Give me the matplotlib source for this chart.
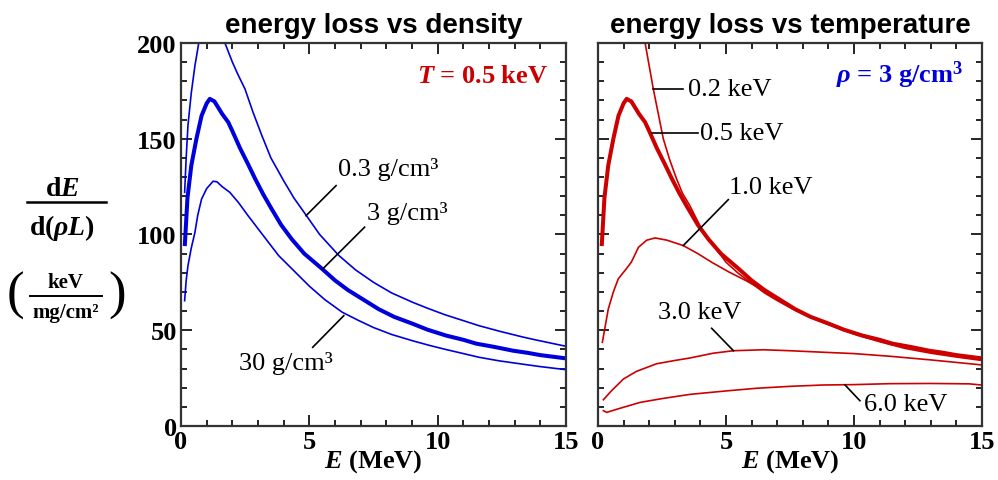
import matplotlib
matplotlib.use("Agg")
import matplotlib.pyplot as plt
from matplotlib.lines import Line2D
from matplotlib.ticker import MultipleLocator

plt.rcParams['font.family'] = ['Liberation Serif', 'DejaVu Serif']
plt.rcParams['mathtext.fontset'] = 'custom'
plt.rcParams['mathtext.rm'] = 'Liberation Serif:bold'
plt.rcParams['mathtext.bf'] = 'Liberation Serif:bold'
plt.rcParams['mathtext.it'] = 'Liberation Serif:bold:italic'

# --- stopping power vs density (T = 0.5 keV) ---
e_rho03 = [0.14, 0.2, 0.27, 0.4, 0.54, 0.69, 0.9, 1.2, 1.5, 1.71, 2.0, 2.2, 2.49, 2.8,
           3.15, 3.5, 4.0, 4.4, 4.85, 5.4, 6.15, 6.8, 7.5, 8.2, 9.02, 9.6, 10.3, 11.0,
           11.6, 12.4, 13.3, 13.8, 15.0]
s_rho03 = [122, 140, 157, 174, 188, 200, 212, 218, 210, 200, 190, 184, 176, 164,
           151.6, 140, 128, 119, 110.5, 100, 89, 81.5, 75, 69.5, 64.6, 61.5, 58, 55,
           52.4, 49.5, 46.5, 45, 41.6]

e_rho3 = [0.15, 0.25, 0.4, 0.5, 0.6, 0.8, 1.0, 1.12, 1.3, 1.6, 1.84, 2.0, 2.3, 2.6,
          2.89, 3.2, 3.5, 3.9, 4.31, 4.8, 5.5, 6.0, 6.5, 7.1, 7.7, 8.3, 9.0, 9.6,
          10.33, 11.0, 11.5, 12.2, 12.94, 13.5, 14.0, 15.0]
s_rho3 = [95, 119, 136, 143, 150, 162, 168.5, 170.8, 169.5, 163, 158.6, 154, 145, 137,
          129, 121, 114, 105, 97.6, 90, 82, 76, 71, 66, 61, 57, 53.5, 50.3,
          47.2, 45, 43, 41.3, 39.3, 38.2, 37, 35.3]

e_rho30 = [0.14, 0.2, 0.27, 0.4, 0.54, 0.65, 0.8, 1.0, 1.25, 1.4, 1.6, 1.9, 2.23, 2.6,
           3.0, 3.4, 3.8, 4.4, 5.0, 5.6, 6.28, 6.9, 7.5, 8.2, 9.02, 9.7, 10.3, 11.0,
           11.6, 12.4, 13.3, 14.0, 15.0]
s_rho30 = [65.4, 76, 83.7, 93, 101, 110, 118.5, 124, 127.8, 127.5, 125, 122, 116.8, 110,
           103, 96, 89, 81, 73, 66, 59.4, 55.2, 51.4, 47.8, 44.5, 42, 40, 37.8,
           35.9, 34, 32.3, 31, 29.4]

# --- stopping power vs temperature (rho = 3 g/cm3) ---
e_t02 = [1.6, 1.84, 2.16, 2.55, 2.8, 3.07, 3.3, 3.59, 4.0, 4.5, 5.0, 5.5, 6.0, 6.5,
         7.0, 7.5, 8.0, 9.0, 10.0, 11.0, 12.0, 13.0, 14.0, 15.0]
s_t02 = [215, 200, 176, 150, 139, 129, 121.5, 115, 104, 94.5, 85.5, 79.5, 74.5, 69.5,
         65.5, 61.8, 58.5, 53, 48.5, 44.8, 41.5, 38.8, 36.8, 35]

e_t05 = e_rho3
s_t05 = s_rho3

e_t10 = [0.17, 0.4, 0.6, 0.79, 1.1, 1.3, 1.58, 1.9, 2.23, 2.7, 3.33, 3.9, 4.44, 5.1,
         5.78, 6.5, 7.17, 7.8, 8.5, 9.2, 10.0, 11.0, 12.0, 13.0, 14.0, 15.0]
s_t10 = [43.7, 61, 70, 76.8, 82, 85.5, 93.3, 97, 98.2, 97, 94.2, 90, 85.5, 80.5,
         75.9, 70.5, 65, 60.5, 56, 52, 48, 44, 40.5, 38, 36, 34.2]

e_t30 = [0.21, 0.5, 0.99, 1.5, 2.29, 3.0, 3.59, 4.5, 5.29, 6.46, 7.5, 8.8, 10.0, 11.41,
         13.0, 14.98]
s_t30 = [13.7, 18, 24.5, 28.5, 32.5, 34.2, 35.5, 38, 39.3, 39.8, 39.3, 38.5, 37.8, 36.4,
         34.5, 31.9]

e_t60 = [0.21, 0.34, 0.8, 1.64, 2.5, 3.59, 5.0, 6.2, 7.5, 8.8, 10.0, 11.41, 13.0, 14.5,
         14.98]
s_t60 = [8.0, 7.1, 9.0, 12.3, 14.3, 16.5, 18.3, 19.7, 20.7, 21.4, 21.6, 22.1, 22.2, 22.0,
         21.4]

blue = '#0000dd'
red = '#cc0000'
thin, thick = 1.2, 2.9

fig = plt.figure(figsize=(9.98, 4.81), dpi=100)
ax1 = fig.add_axes([0.1814, 0.1123, 0.3858, 0.7963])
ax2 = fig.add_axes([0.5992, 0.1123, 0.3848, 0.7963])

for ax in (ax1, ax2):
    ax.set_xlim(0, 15)
    ax.set_ylim(0, 200)
    ax.xaxis.set_major_locator(MultipleLocator(5))
    ax.xaxis.set_minor_locator(MultipleLocator(1))
    ax.yaxis.set_major_locator(MultipleLocator(50))
    ax.yaxis.set_minor_locator(MultipleLocator(10))
    ax.tick_params(which='both', direction='in', top=True, right=True, width=1.2,
                   labelsize=19, pad=3)
    ax.tick_params(which='major', length=8)
    ax.tick_params(which='minor', length=4.3)
    for lab in ax.get_xticklabels() + ax.get_yticklabels():
        lab.set_fontweight('bold')
    for sp in ax.spines.values():
        sp.set_linewidth(1.6)
        sp.set_color('#333333')
    ax.set_xlabel(r'$E$ (MeV)', fontsize=19, fontweight='bold', labelpad=-4)

ax2.tick_params(labelleft=False)

ax1.plot(e_rho03, s_rho03, color=blue, lw=thin)
ax1.plot(e_rho3, s_rho3, color=blue, lw=thick)
ax1.plot(e_rho30, s_rho30, color=blue, lw=thin)

ax2.plot(e_t02, s_t02, color=red, lw=thin)
ax2.plot(e_t05, s_t05, color=red, lw=thick)
ax2.plot(e_t10, s_t10, color=red, lw=thin)
ax2.plot(e_t30, s_t30, color=red, lw=thin)
ax2.plot(e_t60, s_t60, color=red, lw=thin)

ax1.set_title('energy loss vs density', family='Liberation Sans', fontweight='bold',
              fontsize=20, pad=8)
ax2.set_title('energy loss vs temperature', family='Liberation Sans', fontweight='bold',
              fontsize=20, pad=8)

ax1.text(0.953, 0.916, r'$T$ = 0.5 keV', transform=ax1.transAxes, ha='right',
         va='center', fontsize=19, fontweight='bold', color=red)
ax2.text(0.95, 0.918, r'$\rho$ = 3 g/cm$^3$', transform=ax2.transAxes, ha='right',
         va='center', fontsize=19, fontweight='bold', color=blue)

# leader lines and curve labels
def tag(ax, p0, p1, txt, xy, ha='left'):
    ax.plot([p0[0], p1[0]], [p0[1], p1[1]], color='black', lw=1.2)
    ax.text(xy[0], xy[1], txt, ha=ha, va='center', fontsize=19)

tag(ax1, (4.87, 109.8), (6.04, 125.5), '0.3 g/cm³', (6.1, 134.5))
tag(ax1, (5.52, 82), (7.15, 103.8), '3 g/cm³', (7.25, 111.7))
tag(ax1, (6.34, 57.6), (5.13, 41.1), '30 g/cm³', (2.27, 33.4))

tag(ax2, (2.16, 176), (3.33, 176), '0.2 keV', (3.5, 176))
tag(ax2, (2.1, 153), (3.92, 153), '0.5 keV', (4.0, 153))
tag(ax2, (3.33, 94.2), (5.09, 118.2), '1.0 keV', (5.12, 124.6))
tag(ax2, (5.29, 39.3), (4.44, 51), '3.0 keV', (2.36, 59.4))
tag(ax2, (9.65, 21.4), (10.23, 13.2), '6.0 keV', (10.4, 11.5))

# y axis label: dE / d(rho L) over (keV / mg/cm2)
fig.text(0.0626, 0.605, r'd$E$', ha='center', va='center', fontsize=20, fontweight='bold')
fig.text(0.0626, 0.527, r'd($\rho L$)', ha='center', va='center', fontsize=20,
         fontweight='bold')
fig.add_artist(Line2D([0.027, 0.106], [0.578, 0.578], transform=fig.transFigure,
                      color='black', lw=1.8))
fig.text(0.0656, 0.411, 'keV', ha='center', va='center', fontsize=15, fontweight='bold')
fig.text(0.0656, 0.349, 'mg/cm²', ha='center', va='center', fontsize=15, fontweight='bold')
fig.add_artist(Line2D([0.030, 0.102], [0.382, 0.382], transform=fig.transFigure,
                      color='black', lw=1.4))
fig.text(0.015, 0.385, '(', ha='center', va='center', fontsize=38)
fig.text(0.117, 0.385, ')', ha='center', va='center', fontsize=38)

fig.savefig('out.png', dpi=100)
